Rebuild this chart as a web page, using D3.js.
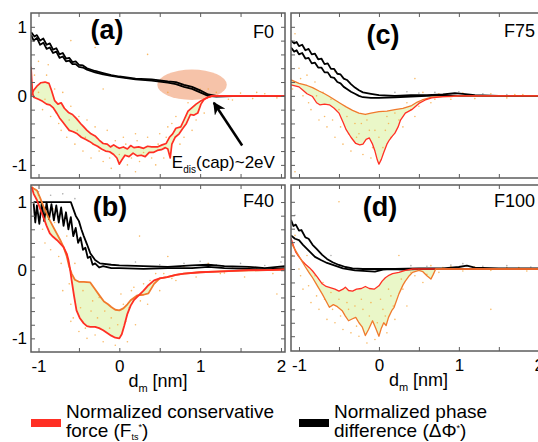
<!DOCTYPE html>
<html>
<head>
<meta charset="utf-8">
<script src="https://cdn.jsdelivr.net/npm/d3@7"></script>
<style>
  body { margin: 0; background: #fff; }
  svg { display: block; font-family: "Liberation Sans", Arial, sans-serif; }
</style>
</head>
<body>
<svg id="chart" width="538" height="442"></svg>
<script>
// tick values
const xTickLabels = [-1, 0, 1, 2];
const yTickLabels = [-1, 0, 1];
const xMinorTicks = [-1, -0.5, 0, 0.5, 1, 1.5, 2];
const yMinorTicks = [-1, -0.8, -0.6, -0.4, -0.2, 0, 0.2, 0.4, 0.6, 0.8, 1];

// (a) F0
const aPhase1 = [[-1.09,0.92],[-1.05,0.86],[-1.02,0.88],[-0.98,0.8],[-0.94,0.83],[-0.9,0.74],[-0.86,0.76],[-0.82,0.67],[-0.78,0.69],[-0.74,0.6],[-0.7,0.62],[-0.66,0.54],[-0.62,0.55],[-0.58,0.49],[-0.54,0.5],[-0.5,0.45],[-0.45,0.44],[-0.4,0.4],[-0.3,0.36],[-0.2,0.33],[-0.1,0.3],[0,0.28],[0.2,0.25],[0.4,0.24],[0.6,0.21],[0.7,0.2],[0.8,0.16],[0.9,0.13],[1.0,0.08],[1.1,0.02],[1.2,0.0],[1.5,0.0],[2.05,0.0]];
const aPhase2 = [[-1.09,0.88],[-1.06,0.8],[-1.02,0.84],[-0.98,0.74],[-0.94,0.77],[-0.9,0.68],[-0.86,0.7],[-0.82,0.62],[-0.78,0.64],[-0.74,0.55],[-0.7,0.57],[-0.66,0.5],[-0.62,0.51],[-0.58,0.46],[-0.54,0.46],[-0.5,0.42],[-0.45,0.41],[-0.4,0.38],[-0.3,0.34],[-0.2,0.31],[-0.1,0.29],[0,0.27],[0.2,0.24],[0.4,0.22],[0.6,0.19],[0.7,0.17],[0.8,0.13],[0.9,0.1],[1.0,0.05],[1.1,0.0],[1.2,-0.01],[1.5,0.0],[2.05,0.0]];
const aForceTop = [[-1.093,0.0],[-1.06,0.08],[-1.02,0.14],[-0.97,0.19],[-0.92,0.2],[-0.87,0.18],[-0.84,0.08],[-0.8,-0.07],[-0.76,-0.12],[-0.72,-0.1],[-0.68,-0.18],[-0.63,-0.24],[-0.58,-0.27],[-0.53,-0.33],[-0.48,-0.4],[-0.44,-0.45],[-0.4,-0.5],[-0.35,-0.55],[-0.3,-0.58],[-0.25,-0.64],[-0.2,-0.69],[-0.15,-0.7],[-0.11,-0.74],[-0.07,-0.71],[-0.03,-0.74],[0.0,-0.76],[0.05,-0.74],[0.1,-0.77],[0.14,-0.72],[0.18,-0.75],[0.24,-0.74],[0.3,-0.76],[0.35,-0.73],[0.4,-0.74],[0.47,-0.74],[0.53,-0.71],[0.58,-0.69],[0.62,-0.6],[0.66,-0.55],[0.7,-0.47],[0.76,-0.45],[0.8,-0.35],[0.85,-0.22],[0.9,-0.17],[0.95,-0.12],[1.0,-0.08],[1.05,-0.05],[1.1,-0.02],[1.15,0.0],[1.3,0.0],[2.05,0.0]];
const aForceBottom = [[-1.093,0.42],[-1.085,0.25],[-1.075,0.05],[-1.06,-0.02],[-1.0,-0.05],[-0.95,-0.08],[-0.9,-0.12],[-0.86,-0.13],[-0.82,-0.17],[-0.78,-0.24],[-0.74,-0.32],[-0.7,-0.38],[-0.66,-0.44],[-0.62,-0.5],[-0.57,-0.52],[-0.52,-0.55],[-0.47,-0.6],[-0.42,-0.63],[-0.37,-0.66],[-0.32,-0.7],[-0.27,-0.73],[-0.22,-0.77],[-0.17,-0.8],[-0.12,-0.81],[-0.07,-0.85],[-0.03,-0.9],[0.0,-0.99],[0.03,-0.93],[0.07,-0.86],[0.12,-0.88],[0.17,-0.83],[0.22,-0.87],[0.27,-0.86],[0.32,-0.88],[0.37,-0.82],[0.42,-0.82],[0.47,-0.79],[0.52,-0.78],[0.57,-0.75],[0.6,-0.77],[0.63,-0.9],[0.65,-0.7],[0.69,-0.6],[0.74,-0.55],[0.78,-0.48],[0.83,-0.4],[0.88,-0.27],[0.92,-0.28],[0.97,-0.25],[1.01,-0.12],[1.05,-0.05],[1.1,-0.02],[1.15,0.0],[1.3,0.0],[2.05,0.0]];
const aDots = [[-1.05,0.3],[-1.0,0.05],[-0.95,-0.2],[-0.9,0.3],[-0.85,-0.3],[-0.8,0.1],[-0.75,-0.4],[-0.7,0.05],[-0.65,-0.6],[-0.6,-0.15],[-0.55,-0.7],[-0.5,-0.3],[-0.45,-0.8],[-0.4,-0.35],[-0.35,-0.9],[-0.3,-0.45],[-0.2,-0.95],[-0.15,-0.5],[-0.1,-1.05],[0.05,-0.6],[0.1,-1.0],[0.2,-0.55],[0.25,-0.95],[0.35,-0.6],[0.45,-1.0],[0.5,-0.55],[0.55,-0.9],[0.6,-0.45],[0.7,-0.3],[0.75,-0.7],[0.85,-0.1],[0.9,-0.5],[1.0,0.1],[1.05,-0.25],[1.2,0.05],[1.35,-0.05],[1.5,0.04],[1.65,-0.04],[1.8,0.03],[1.95,-0.03],[-0.6,0.8],[0.35,0.6],[-0.2,0.1],[0.6,0.05],
  [-1.0,0.5],[-0.92,-0.05],[-0.88,0.45],[-0.78,-0.25],[-0.72,-0.5],[-0.62,-0.35],[-0.52,-0.5],[-0.42,-0.6],[-0.33,-0.7],[-0.25,-0.8],[-0.12,-0.9],[-0.05,-0.65],[0.0,-0.85],[0.08,-0.7],[0.15,-0.9],[0.22,-0.65],[0.3,-0.82],[0.4,-0.9],[0.48,-0.7],[0.58,-0.6],[0.65,-0.4],[0.8,-0.6],[0.95,-0.35],[1.1,0.1],[1.4,-0.06],[1.7,0.05],[-0.3,0.7],[0.2,-1.1]];

// (b) F40
const bPhase1 = [[-1.06,1.0],[-0.8,1.0],[-0.6,1.0],[-0.57,0.9],[-0.54,0.8],[-0.5,0.72],[-0.47,0.6],[-0.44,0.5],[-0.4,0.38],[-0.36,0.25],[-0.3,0.15],[-0.24,0.1],[-0.1,0.08],[0,0.07],[0.3,0.06],[0.6,0.05],[0.9,0.07],[1.1,0.08],[1.3,0.06],[1.6,0.05],[1.8,0.03],[2.05,0.06]];
const bPhase2 = [[-1.06,0.98],[-1.04,0.7],[-1.02,0.95],[-0.99,0.68],[-0.96,0.98],[-0.93,0.72],[-0.9,0.99],[-0.87,0.75],[-0.84,0.97],[-0.81,0.73],[-0.78,0.95],[-0.75,0.7],[-0.72,0.92],[-0.69,0.65],[-0.66,0.85],[-0.63,0.6],[-0.6,0.78],[-0.57,0.5],[-0.54,0.62],[-0.51,0.4],[-0.48,0.48],[-0.45,0.3],[-0.42,0.33],[-0.39,0.18],[-0.36,0.2],[-0.33,0.08],[-0.3,0.1],[-0.25,0.04],[-0.2,0.06],[-0.1,0.03],[0,0.03],[0.3,0.02],[0.6,0.03],[0.9,0.03],[1.1,0.05],[1.3,0.03],[1.6,0.02],[1.8,0.01],[2.05,0.03]];
const bForceRed = [[-1.085,1.22],[-1.06,1.12],[-1.02,1.03],[-0.98,0.9],[-0.94,0.78],[-0.9,0.65],[-0.86,0.54],[-0.82,0.49],[-0.77,0.44],[-0.73,0.39],[-0.69,0.34],[-0.65,0.24],[-0.63,0.15],[-0.61,0.02],[-0.59,-0.15],[-0.56,-0.38],[-0.53,-0.59],[-0.49,-0.7],[-0.44,-0.78],[-0.4,-0.82],[-0.36,-0.83],[-0.3,-0.83],[-0.25,-0.85],[-0.2,-0.88],[-0.15,-0.92],[-0.1,-0.96],[-0.05,-0.99],[0,-1.0],[0.03,-0.94],[0.06,-0.82],[0.1,-0.64],[0.14,-0.52],[0.18,-0.44],[0.24,-0.37],[0.3,-0.3],[0.36,-0.22],[0.43,-0.15],[0.5,-0.12],[0.59,-0.1],[0.7,-0.07],[0.8,-0.05],[1.0,-0.03],[1.2,-0.02],[1.42,-0.01],[1.6,0.0],[1.83,0.0],[2.05,0.01]];
const bForceOrange = [[-1.085,1.22],[-1.06,1.2],[-1.02,1.17],[-0.98,1.06],[-0.94,0.94],[-0.9,0.83],[-0.86,0.73],[-0.82,0.64],[-0.77,0.53],[-0.73,0.44],[-0.69,0.34],[-0.65,0.2],[-0.62,0.05],[-0.59,-0.05],[-0.55,-0.14],[-0.5,-0.17],[-0.44,-0.17],[-0.36,-0.18],[-0.3,-0.28],[-0.24,-0.38],[-0.19,-0.46],[-0.14,-0.5],[-0.1,-0.54],[-0.05,-0.58],[0,-0.59],[0.05,-0.56],[0.1,-0.5],[0.14,-0.44],[0.22,-0.37],[0.3,-0.36],[0.36,-0.34],[0.43,-0.2],[0.5,-0.12],[0.59,-0.1],[0.7,-0.07],[0.8,-0.05],[1.0,-0.03],[1.42,-0.01],[1.83,0.0],[2.05,0.01]];
const bDots = [[-1.0,1.1],[-0.95,0.6],[-0.9,0.95],[-0.85,0.3],[-0.8,0.7],[-0.75,0.2],[-0.7,-0.3],[-0.65,0.5],[-0.6,-0.5],[-0.55,0.1],[-0.5,-0.9],[-0.45,-0.3],[-0.4,-1.0],[-0.35,-0.6],[-0.3,-0.95],[-0.25,-0.4],[-0.2,-1.05],[-0.1,-0.7],[-0.05,-1.1],[0.05,-0.5],[0.1,-1.05],[0.15,-0.3],[0.2,-0.8],[0.3,-0.2],[0.35,-0.5],[0.45,-0.05],[0.5,-0.3],[0.6,0.2],[0.7,-0.15],[0.8,0.05],[0.95,-0.1],[1.1,0.1],[1.25,-0.05],[1.4,0.05],[1.55,-0.1],[1.7,0.03],[1.9,-0.05],[1.95,-0.35],[-0.6,-0.75],[0.25,0.5],
  [-1.05,0.85],[-0.92,0.4],[-0.82,0.9],[-0.72,0.1],[-0.62,-0.2],[-0.57,-0.7],[-0.48,-0.55],[-0.42,-0.85],[-0.33,-0.45],[-0.27,-0.7],[-0.18,-0.6],[-0.12,-0.85],[-0.02,-0.8],[0.02,-0.35],[0.08,-0.75],[0.12,-0.55],[0.18,-0.25],[0.26,-0.45],[0.38,-0.15],[0.55,-0.05],[0.65,-0.12],[0.9,0.03],[1.3,-0.04],[1.6,0.04],[1.85,0.02]];
const bGrey = [[-1.0,1.15],[-0.85,1.1],[-0.7,1.12],[-0.55,1.05],[0.2,0.12],[0.5,0.08],[0.8,0.1],[1.0,0.13],[1.2,0.08],[1.5,0.1],[1.8,0.07],[2.0,0.12]];

// (c) F75
const cPhase1 = [[-1.1,0.8],[-1.06,0.76],[-1.03,0.78],[-1.0,0.72],[-0.96,0.74],[-0.92,0.66],[-0.88,0.68],[-0.84,0.6],[-0.8,0.61],[-0.76,0.53],[-0.72,0.54],[-0.68,0.46],[-0.64,0.47],[-0.6,0.39],[-0.56,0.39],[-0.52,0.32],[-0.48,0.31],[-0.44,0.25],[-0.4,0.23],[-0.35,0.17],[-0.3,0.12],[-0.25,0.08],[-0.2,0.05],[-0.1,0.03],[0,0.01],[0.2,0.0],[0.4,0.01],[0.6,0.01],[0.8,0.02],[0.95,0.04],[1.05,0.03],[1.2,0.01],[1.5,0.0],[2.09,0.0]];
const cPhase2 = [[-1.1,0.7],[-1.06,0.64],[-1.03,0.66],[-1.0,0.6],[-0.96,0.62],[-0.92,0.54],[-0.88,0.55],[-0.84,0.47],[-0.8,0.48],[-0.76,0.41],[-0.72,0.41],[-0.68,0.34],[-0.64,0.34],[-0.6,0.27],[-0.56,0.26],[-0.52,0.2],[-0.48,0.18],[-0.44,0.13],[-0.4,0.1],[-0.35,0.06],[-0.3,0.03],[-0.25,0.0],[-0.2,-0.02],[-0.1,-0.03],[0,-0.03],[0.2,-0.02],[0.4,-0.01],[0.6,0.0],[0.8,0.01],[1.0,0.0],[1.5,0.0],[2.09,0.0]];
const cForceRed = [[-1.1,0.16],[-1.0,0.13],[-0.95,0.08],[-0.9,0.03],[-0.83,-0.01],[-0.78,-0.1],[-0.74,-0.13],[-0.68,-0.12],[-0.62,-0.13],[-0.56,-0.18],[-0.5,-0.25],[-0.45,-0.38],[-0.41,-0.49],[-0.35,-0.6],[-0.29,-0.69],[-0.24,-0.71],[-0.2,-0.7],[-0.16,-0.63],[-0.12,-0.61],[-0.08,-0.7],[-0.05,-0.8],[-0.02,-0.93],[0,-0.99],[0.03,-0.92],[0.06,-0.82],[0.1,-0.7],[0.13,-0.64],[0.17,-0.58],[0.2,-0.54],[0.24,-0.45],[0.27,-0.35],[0.33,-0.25],[0.41,-0.2],[0.5,-0.11],[0.58,-0.06],[0.66,-0.03],[0.8,-0.01],[1.0,0.0],[2.09,0.0]];
const cForceOrange = [[-1.1,0.23],[-1.0,0.18],[-0.9,0.15],[-0.83,0.12],[-0.75,0.07],[-0.68,0.03],[-0.62,-0.01],[-0.55,-0.06],[-0.48,-0.11],[-0.41,-0.16],[-0.33,-0.21],[-0.25,-0.25],[-0.17,-0.27],[-0.1,-0.25],[0,-0.23],[0.1,-0.22],[0.2,-0.2],[0.3,-0.18],[0.41,-0.14],[0.48,-0.09],[0.54,-0.06],[0.66,-0.02],[0.8,-0.01],[0.9,-0.01],[1.0,0.0],[2.09,0.0]];
const cDots = [[-1.05,0.9],[-1.0,0.4],[-0.95,0.0],[-0.9,0.3],[-0.85,-0.2],[-0.8,0.2],[-0.75,-0.35],[-0.7,0.05],[-0.65,-0.45],[-0.6,-0.05],[-0.55,-0.6],[-0.5,-0.2],[-0.45,-0.7],[-0.4,-0.3],[-0.35,-0.8],[-0.3,-0.4],[-0.25,-0.55],[-0.2,-0.85],[-0.15,-0.35],[-0.1,-0.9],[-0.05,-0.5],[0.05,-0.75],[0.1,-0.3],[0.15,-0.6],[0.2,-0.25],[0.3,-0.45],[0.35,-0.1],[0.45,-0.3],[0.55,0.05],[0.65,-0.1],[0.75,0.03],[0.9,-0.05],[1.05,0.04],[1.2,-0.04],[1.4,0.03],[1.6,-0.03],[1.8,0.02],[-1.05,-1.1],[-0.55,0.35],[0.45,0.25],
  [-1.08,0.1],[-0.98,0.25],[-0.88,-0.1],[-0.78,0.0],[-0.68,-0.3],[-0.58,-0.35],[-0.48,-0.45],[-0.38,-0.55],[-0.28,-0.6],[-0.22,-0.4],[-0.12,-0.5],[-0.08,-0.75],[0.0,-0.6],[0.08,-0.5],[0.12,-0.4],[0.25,-0.35],[0.4,-0.2],[0.5,-0.15],[0.7,-0.05],[0.85,0.02],[1.3,0.0],[1.7,0.02]];
const cGrey = [[0.2,0.05],[0.35,0.06],[0.5,0.04],[0.7,0.05],[0.85,0.03],[1.0,0.06],[1.15,0.0],[1.3,0.03],[1.45,0.0],[1.6,0.02]];

// (d) F100
const dPhase1 = [[-1.1,0.73],[-1.07,0.64],[-1.04,0.66],[-1.0,0.57],[-0.97,0.58],[-0.92,0.47],[-0.88,0.45],[-0.83,0.36],[-0.78,0.3],[-0.71,0.21],[-0.65,0.15],[-0.58,0.1],[-0.5,0.06],[-0.42,0.03],[-0.33,0.01],[-0.2,0.0],[0,0.0],[0.2,0.0],[0.5,0.01],[0.8,0.01],[1.0,0.03],[1.1,0.05],[1.2,0.02],[1.5,0.01],[2.09,0.01]];
const dPhase2 = [[-1.1,0.5],[-1.05,0.45],[-1.0,0.43],[-0.95,0.36],[-0.9,0.3],[-0.85,0.24],[-0.8,0.18],[-0.72,0.13],[-0.65,0.09],[-0.55,0.05],[-0.45,0.01],[-0.3,-0.02],[-0.15,-0.03],[-0.05,-0.04],[0.05,-0.01],[0.15,0.0],[0.3,-0.01],[0.5,0.0],[1.0,0.0],[2.09,0.0]];
const dForceRed = [[-1.1,0.46],[-1.07,0.35],[-1.04,0.25],[-1.0,0.18],[-0.96,0.12],[-0.92,0.07],[-0.87,0.02],[-0.83,-0.03],[-0.77,-0.12],[-0.71,-0.22],[-0.66,-0.26],[-0.6,-0.28],[-0.55,-0.3],[-0.5,-0.33],[-0.45,-0.3],[-0.42,-0.27],[-0.38,-0.32],[-0.33,-0.33],[-0.28,-0.3],[-0.22,-0.29],[-0.17,-0.26],[-0.12,-0.29],[-0.06,-0.3],[0,-0.25],[0.04,-0.18],[0.08,-0.13],[0.13,-0.09],[0.17,-0.07],[0.25,-0.05],[0.33,-0.02],[0.42,0.0],[0.6,0.0],[1.0,0.0],[2.09,0.0]];
const dForceOrange = [[-1.1,0.39],[-1.04,0.27],[-0.98,0.15],[-0.92,0.03],[-0.87,-0.06],[-0.83,-0.13],[-0.77,-0.25],[-0.71,-0.37],[-0.66,-0.48],[-0.62,-0.57],[-0.57,-0.53],[-0.52,-0.56],[-0.46,-0.62],[-0.42,-0.7],[-0.38,-0.77],[-0.33,-0.74],[-0.29,-0.72],[-0.25,-0.8],[-0.21,-0.86],[-0.17,-0.99],[-0.13,-0.9],[-0.08,-0.77],[-0.04,-0.88],[0,-1.0],[0.03,-0.88],[0.06,-0.8],[0.09,-0.84],[0.12,-0.72],[0.16,-0.62],[0.19,-0.57],[0.25,-0.37],[0.3,-0.24],[0.33,-0.18],[0.38,-0.1],[0.42,-0.05],[0.5,-0.02],[0.55,-0.04],[0.6,-0.1],[0.65,-0.15],[0.68,-0.08],[0.71,0.0],[1.0,0.0],[2.09,0.0]];
const dDots = [[-1.05,0.5],[-1.0,0.0],[-0.95,-0.3],[-0.9,0.2],[-0.85,-0.5],[-0.8,-0.1],[-0.75,-0.6],[-0.7,-0.2],[-0.65,-0.75],[-0.6,-0.35],[-0.55,-0.8],[-0.5,-0.45],[-0.45,-0.9],[-0.4,-0.5],[-0.35,-0.95],[-0.3,-0.55],[-0.25,-1.0],[-0.2,-0.6],[-0.15,-1.1],[-0.1,-0.5],[-0.05,-1.05],[0.05,-0.6],[0.1,-0.95],[0.15,-0.4],[0.2,-0.75],[0.3,-0.3],[0.35,-0.55],[0.45,-0.1],[0.55,-0.2],[0.65,0.05],[0.75,-0.05],[0.9,0.04],[1.05,-0.03],[1.2,0.03],[1.4,-0.02],[1.6,0.02],[1.85,-0.03],[1.4,-0.6],[-0.5,1.0],[0.25,0.2],
  [-1.08,0.2],[-0.98,-0.1],[-0.88,-0.25],[-0.78,-0.4],[-0.68,-0.45],[-0.58,-0.6],[-0.48,-0.7],[-0.38,-0.6],[-0.28,-0.85],[-0.22,-0.45],[-0.12,-0.7],[-0.02,-0.8],[0.02,-0.45],[0.08,-0.7],[0.12,-0.3],[0.18,-0.55],[0.28,-0.15],[0.4,-0.05],[0.6,-0.08],[0.8,0.02],[1.3,0.0],[1.75,0.02]];
const dGrey = [[-1.05,0.8],[-0.6,0.2],[0.4,0.05],[0.6,0.04],[0.9,0.06],[1.05,0.08],[1.3,0.04],[1.6,0.05],[1.9,0.03]];

// annotation in (a)
const aEllipse = { cx: 0.9, cy: 0.16, rx: 0.43, ry: 0.22 };
const aArrow = [[1.52, -0.72], [1.17, -0.1]];

const RED = "#ff2f24", ORANGE = "#f07a2c", GREEN = "#eaf7c8", FRAME = "#5c5c5c";

const svg = d3.select("#chart");
const defs = svg.append("defs");
defs.append("marker")
  .attr("id", "head")
  .attr("viewBox", "0 0 10 10")
  .attr("refX", 9).attr("refY", 5)
  .attr("markerWidth", 5).attr("markerHeight", 5)
  .attr("orient", "auto")
  .append("path").attr("d", "M0,0L10,5L0,10L3,5Z").attr("fill", "#000");

const panels = [
  { id: "a", label: "(a)", tag: "F0", box: [31, 13, 285, 178], xd: [-1.093, 2.05], yd: [-1.19, 1.2],
    lab: [76, 26], tagY: 25, yLabels: true, xLabels: false,
    phase: [aPhase1, aPhase2], top: aForceTop, bot: aForceBottom, topColor: RED, botColor: RED, lw: 1.7, dots: aDots, grey: [] },
  { id: "b", label: "(b)", tag: "F40", box: [31, 185, 285, 352], xd: [-1.093, 2.05], yd: [-1.2, 1.25],
    lab: [79, 31], tagY: 22, yLabels: true, xLabels: true,
    phase: [bPhase1, bPhase2], top: bForceOrange, bot: bForceRed, topColor: ORANGE, botColor: RED, lw: 1.8, dots: bDots, grey: bGrey },
  { id: "c", label: "(c)", tag: "F75", box: [291, 13, 546, 178], xd: [-1.1, 2.09], yd: [-1.19, 1.2],
    lab: [92, 31], tagY: 24, yLabels: false, xLabels: false,
    phase: [cPhase1, cPhase2], top: cForceOrange, bot: cForceRed, topColor: ORANGE, botColor: RED, lw: 1.3, dots: cDots, grey: cGrey },
  { id: "d", label: "(d)", tag: "F100", box: [291, 185, 546, 351], xd: [-1.1, 2.09], yd: [-1.22, 1.25],
    lab: [89, 31], tagY: 22, yLabels: false, xLabels: true,
    phase: [dPhase1, dPhase2], top: dForceRed, bot: dForceOrange, topColor: RED, botColor: ORANGE, lw: 1.3, dots: dDots, grey: dGrey }
];

panels.forEach(p => {
  const [x0, y0, x1, y1] = p.box;
  const x = d3.scaleLinear().domain(p.xd).range([x0, x1]);
  const y = d3.scaleLinear().domain(p.yd).range([y1, y0]);
  const line = d3.line().x(d => x(d[0])).y(d => y(d[1]));

  defs.append("clipPath").attr("id", "clip-" + p.id)
    .append("rect").attr("x", x0).attr("y", y0).attr("width", x1 - x0).attr("height", y1 - y0);

  const g = svg.append("g");
  const plot = g.append("g").attr("clip-path", `url(#clip-${p.id})`);

  // shaded area between the two force curves
  plot.append("path")
    .attr("d", line(p.top.concat(p.bot.slice().reverse())) + "Z")
    .attr("fill", GREEN);

  if (p.id === "a") {
    plot.append("ellipse")
      .attr("cx", x(aEllipse.cx)).attr("cy", y(aEllipse.cy))
      .attr("rx", x(aEllipse.cx + aEllipse.rx) - x(aEllipse.cx))
      .attr("ry", y(aEllipse.cy - aEllipse.ry) - y(aEllipse.cy))
      .attr("fill", "#f5b89a").attr("opacity", 0.85);
  }

  plot.selectAll(".dot").data(p.dots).enter().append("circle")
    .attr("cx", d => x(d[0])).attr("cy", d => y(d[1])).attr("r", 0.8)
    .attr("fill", "#f7a940").attr("opacity", 0.8);
  plot.selectAll(".grey").data(p.grey).enter().append("circle")
    .attr("cx", d => x(d[0])).attr("cy", d => y(d[1])).attr("r", 0.8)
    .attr("fill", "#999").attr("opacity", 0.8);

  p.phase.forEach(tr => {
    plot.append("path").attr("d", line(tr))
      .attr("fill", "none").attr("stroke", "#000").attr("stroke-width", 1.8)
      .attr("stroke-linejoin", "round");
  });

  plot.append("path").attr("d", line(p.top))
    .attr("fill", "none").attr("stroke", p.topColor).attr("stroke-width", p.lw).attr("stroke-linejoin", "round");
  plot.append("path").attr("d", line(p.bot))
    .attr("fill", "none").attr("stroke", p.botColor).attr("stroke-width", p.lw).attr("stroke-linejoin", "round");

  // inward ticks on all sides
  const tickAxes = [
    [d3.axisBottom(x).tickValues(xMinorTicks), `translate(0,${y1})`],
    [d3.axisTop(x).tickValues(xMinorTicks), `translate(0,${y0})`],
    [d3.axisLeft(y).tickValues(yMinorTicks), `translate(${x0},0)`],
    [d3.axisRight(y).tickValues(yMinorTicks), `translate(${x1},0)`]
  ];
  tickAxes.forEach(([ax, tr]) => {
    const a = g.append("g").attr("transform", tr).call(ax.tickSize(-4).tickFormat(""));
    a.select(".domain").remove();
    a.selectAll("line").attr("stroke", FRAME);
  });

  if (p.xLabels) {
    const a = g.append("g").attr("transform", `translate(0,${y1})`)
      .call(d3.axisBottom(x).tickValues(xTickLabels).tickSize(0).tickPadding(8).tickFormat(d => String(d)));
    a.select(".domain").remove();
    a.selectAll("text").attr("font-size", 17).attr("fill", "#000")
      .attr("font-family", '"Liberation Sans", Arial, sans-serif');
    const t = g.append("text").attr("x", (x0 + x1) / 2).attr("y", y1 + 35)
      .attr("text-anchor", "middle").attr("font-size", 18);
    t.append("tspan").text("d");
    t.append("tspan").attr("font-size", 11).attr("dy", 5).text("m");
    t.append("tspan").attr("dy", -5).text(" [nm]");
  }
  if (p.yLabels) {
    const a = g.append("g").attr("transform", `translate(${x0},0)`)
      .call(d3.axisLeft(y).tickValues(yTickLabels).tickSize(0).tickPadding(4).tickFormat(d => String(d)));
    a.select(".domain").remove();
    a.selectAll("text").attr("font-size", 17).attr("fill", "#000")
      .attr("font-family", '"Liberation Sans", Arial, sans-serif');
  }

  g.append("rect").attr("x", x0).attr("y", y0).attr("width", x1 - x0).attr("height", y1 - y0)
    .attr("fill", "none").attr("stroke", FRAME).attr("stroke-width", 1.5);

  g.append("text").attr("x", x0 + p.lab[0]).attr("y", y0 + p.lab[1])
    .attr("text-anchor", "middle").attr("font-size", 27).attr("font-weight", "bold").text(p.label);
  g.append("text").attr("x", x1 - 11).attr("y", y0 + p.tagY)
    .attr("text-anchor", "end").attr("font-size", 18).text(p.tag);

  if (p.id === "a") {
    g.append("line")
      .attr("x1", x(aArrow[0][0])).attr("y1", y(aArrow[0][1]))
      .attr("x2", x(aArrow[1][0])).attr("y2", y(aArrow[1][1]))
      .attr("stroke", "#000").attr("stroke-width", 2.5).attr("marker-end", "url(#head)");
    const t = g.append("text").attr("x", x(0.65)).attr("y", y(-1.05)).attr("font-size", 17);
    t.append("tspan").text("E");
    t.append("tspan").attr("font-size", 10).attr("dy", 5).text("dis");
    t.append("tspan").attr("dy", -5).text("(cap)~2eV");
  }
});

// legend
const legend = [
  { color: RED, x: 31, lines: ["Normalized conservative", "force (F"], sub: "ts", tail: ")" },
  { color: "#000", x: 299, lines: ["Normalized phase", "difference (\u0394\u03A6"], sub: "", tail: ")" }
];
legend.forEach(l => {
  svg.append("rect").attr("x", l.x).attr("y", 419).attr("width", 30).attr("height", 8).attr("fill", l.color);
  svg.append("text").attr("x", l.x + 35).attr("y", 418).attr("font-size", 19).text(l.lines[0]);
  const t = svg.append("text").attr("x", l.x + 35).attr("y", 437).attr("font-size", 19);
  t.append("tspan").text(l.lines[1]);
  if (l.sub) {
    t.append("tspan").attr("font-size", 9).attr("dy", 3).text(l.sub);
    t.append("tspan").attr("font-size", 9).attr("dy", -10).text("*");
    t.append("tspan").attr("dy", 7).text(l.tail);
  } else {
    t.append("tspan").attr("font-size", 9).attr("dy", -6).text("*");
    t.append("tspan").attr("dy", 6).text(l.tail);
  }
});
</script>
</body>
</html>
